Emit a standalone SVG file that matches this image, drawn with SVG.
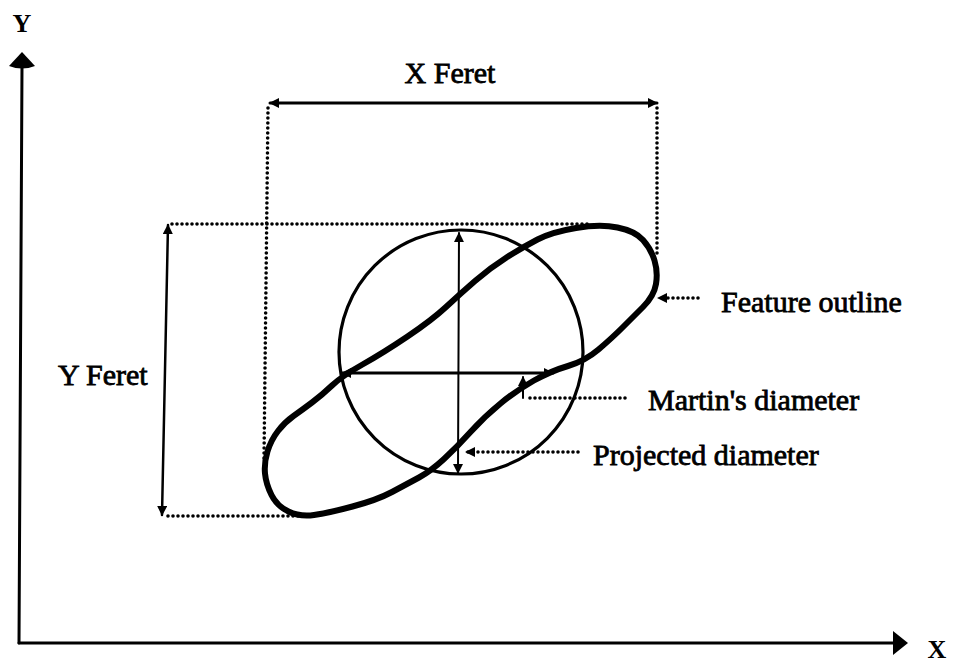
<svg xmlns="http://www.w3.org/2000/svg" width="955" height="664" viewBox="0 0 955 664">
<defs>
<style>
.lbl{font-family:"Liberation Serif","Times New Roman",serif;font-size:30px;fill:#000;stroke:#000;stroke-width:0.8px}
.ax{font-family:"Liberation Serif","Times New Roman",serif;font-weight:bold;fill:#000}
.solid{stroke:#000;fill:none;stroke-linecap:round}
.dot{stroke:#000;fill:none;stroke-width:3.6;stroke-dasharray:0 5;stroke-linecap:round}
</style>
<marker id="arr" viewBox="0 0 10 10" refX="9" refY="5" markerWidth="12" markerHeight="10" markerUnits="userSpaceOnUse" orient="auto-start-reverse">
<path d="M0,0 L10,5 L0,10 Z" fill="#000"/>
</marker>
</defs>
<rect width="955" height="664" fill="#fff"/>

<g id="axes">
<line class="solid" x1="22" y1="66" x2="19" y2="643" stroke-width="3"/>
<path d="M22,52 L35,66 Q22,71 9,66 Z" fill="#000"/>
<line class="solid" x1="19" y1="643" x2="895" y2="643" stroke-width="3"/>
<path d="M908,643 L893,631 L893,655 Z" fill="#000"/>
<text class="ax" x="22" y="32" font-size="26" text-anchor="middle">Y</text>
<text class="ax" x="937" y="658" font-size="26" text-anchor="middle">X</text>
</g>

<g id="feature-outline">
<path d="M265,473.5 Q264,463 267.5,451.5 Q271,440 278,431 Q285,422 293.5,416 Q302,410 312,402.5 Q322,395 332,385.5 Q342,376 362.5,364.5 Q383,353 407.5,336.5 Q432,320 446,307 Q460,294 475,281 Q490,268 506.5,257.5 Q523,247 537.5,239.5 Q552,232 576,228 Q600,224 617.5,227.5 Q635,231 643,240 Q651,249 654.5,260.5 Q658,272 656,284 Q654,296 643,307 Q632,318 622,328 Q612,338 598.5,349.5 Q585,361 568,366 Q551,371 534,380.5 Q517,390 500.5,403.5 Q484,417 470.5,432 Q457,447 444,459 Q431,471 419,477.5 Q407,484 392,492 Q377,500 352.5,506.5 Q328,513 314,515 Q300,517 288.5,511.5 Q277,506 271.5,495 Q266,484 265,473.5 Z" fill="none" stroke="#000" stroke-width="6" stroke-linejoin="round"/>
</g>

<g id="circle">
<circle cx="461" cy="352" r="122" fill="none" stroke="#000" stroke-width="3.2"/>
</g>

<g id="connectors">
<line class="solid" x1="270" y1="103" x2="657" y2="103" stroke-width="3" marker-start="url(#arr)" marker-end="url(#arr)"/>
<line class="dot" x1="268" y1="108" x2="264" y2="458"/>
<line class="dot" x1="657" y1="108" x2="657" y2="255"/>
<line class="dot" x1="172" y1="224" x2="590" y2="224"/>
<line class="solid" x1="168" y1="225" x2="162" y2="515" stroke-width="2.5" marker-start="url(#arr)" marker-end="url(#arr)"/>
<line class="dot" x1="168" y1="516" x2="300" y2="516"/>
<line class="solid" x1="459" y1="233" x2="458" y2="473" stroke-width="2" marker-start="url(#arr)" marker-end="url(#arr)"/>
<line class="solid" x1="342" y1="373" x2="553" y2="373" stroke-width="3" marker-start="url(#arr)" marker-end="url(#arr)"/>
<line class="dot" x1="625" y1="398" x2="526" y2="398"/>
<line class="solid" x1="523" y1="398" x2="523" y2="377" stroke-width="2" marker-end="url(#arr)"/>
<line class="dot" x1="578" y1="452" x2="466" y2="452" marker-end="url(#arr)"/>
<line class="dot" x1="698" y1="298" x2="658" y2="298" marker-end="url(#arr)"/>
</g>

<g id="label-x-feret"><text class="lbl" x="450" y="83" text-anchor="middle">X Feret</text></g>
<g id="label-y-feret"><text class="lbl" x="58" y="385">Y Feret</text></g>
<g id="label-feature-outline"><text class="lbl" x="721" y="312">Feature outline</text></g>
<g id="label-martins-diameter"><text class="lbl" x="648" y="410">Martin's diameter</text></g>
<g id="label-projected-diameter"><text class="lbl" x="593" y="465">Projected diameter</text></g>
</svg>
